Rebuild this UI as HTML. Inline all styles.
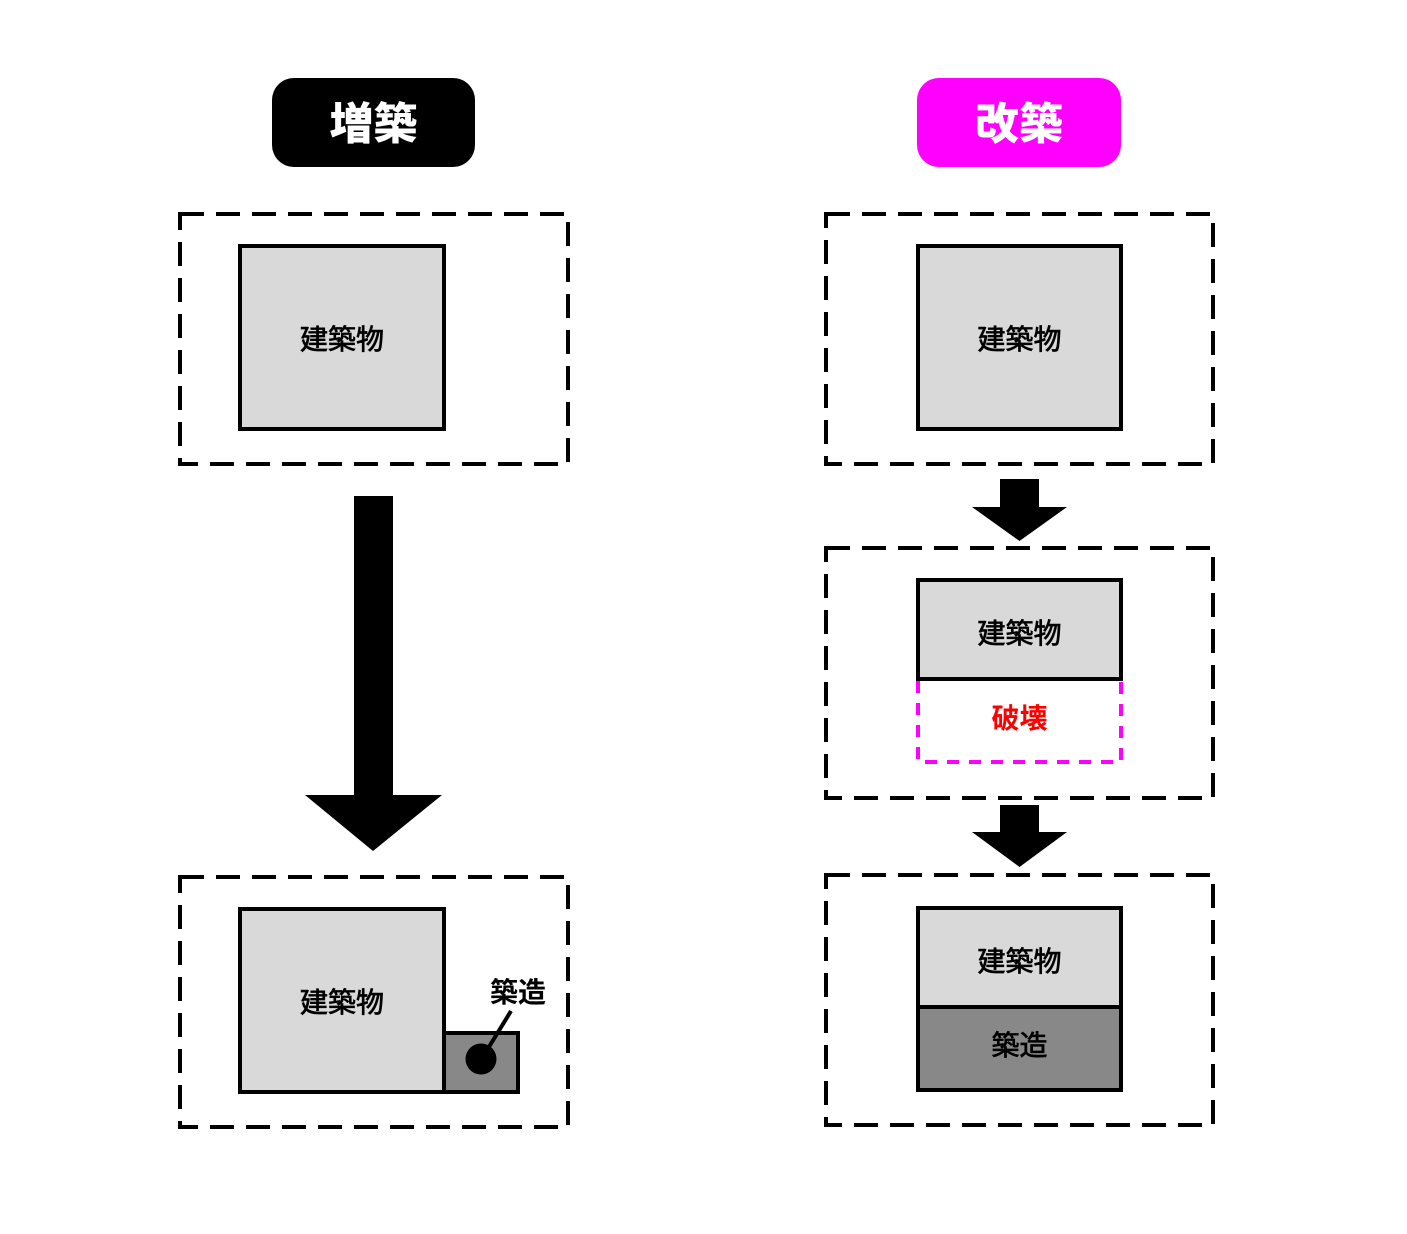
<!DOCTYPE html>
<html>
<head>
<meta charset="utf-8">
<style>
html,body{margin:0;padding:0;background:#fff;}
svg{display:block;}
text{font-family:"Liberation Sans","Noto Sans CJK JP",sans-serif;}
.m{font-size:28px;font-weight:400;fill:#000;stroke:#000;stroke-width:0.7px;}
</style>
</head>
<body>
<svg width="1407" height="1234" viewBox="0 0 1407 1234" xmlns="http://www.w3.org/2000/svg">
  <!-- Titles -->
  <rect x="272" y="78" width="203" height="89" rx="22" ry="22" fill="#000"/>
  <text x="373.5" y="139" font-size="44" font-weight="900" fill="#fff" text-anchor="middle">増築</text>
  <rect x="917" y="78" width="204" height="89" rx="22" ry="22" fill="#ff00ff"/>
  <text x="1019" y="139" font-size="44" font-weight="900" fill="#fff" text-anchor="middle">改築</text>

  <!-- Left column -->
  <rect x="180" y="214" width="388" height="250" fill="none" stroke="#000" stroke-width="4" stroke-dasharray="24 12"/>
  <rect x="240" y="246" width="204" height="183" fill="#d9d9d9" stroke="#000" stroke-width="4"/>
  <text x="342" y="349" class="m" text-anchor="middle">建築物</text>

  <polygon points="354,496 393,496 393,795 442,795 373,851 305,795 354,795" fill="#000"/>

  <rect x="180" y="877" width="388" height="250" fill="none" stroke="#000" stroke-width="4" stroke-dasharray="24 12"/>
  <rect x="240" y="909" width="204" height="183" fill="#d9d9d9" stroke="#000" stroke-width="4"/>
  <text x="342" y="1012" class="m" text-anchor="middle">建築物</text>
  <rect x="444" y="1033" width="74" height="59" fill="#888888" stroke="#000" stroke-width="4"/>
  <line x1="511" y1="1011" x2="484" y2="1055" stroke="#000" stroke-width="4"/>
  <circle cx="481" cy="1059" r="15.5" fill="#000"/>
  <text x="518" y="1002" font-size="28" font-weight="600" fill="#000" text-anchor="middle">築造</text>

  <!-- Right column -->
  <rect x="826" y="214" width="387" height="250" fill="none" stroke="#000" stroke-width="4" stroke-dasharray="24 12"/>
  <rect x="918" y="246" width="203" height="183" fill="#d9d9d9" stroke="#000" stroke-width="4"/>
  <text x="1019.5" y="349" class="m" text-anchor="middle">建築物</text>

  <polygon points="1000,479 1039,479 1039,507 1067,507 1019.5,541 972,507 1000,507" fill="#000"/>

  <rect x="826" y="548" width="387" height="250" fill="none" stroke="#000" stroke-width="4" stroke-dasharray="24 12"/>
  <path d="M918,681 L918,762 L1121,762 L1121,681" fill="none" stroke="#ff00ff" stroke-width="4" stroke-dasharray="12 10"/>
  <rect x="918" y="580" width="203" height="99" fill="#d9d9d9" stroke="#000" stroke-width="4"/>
  <text x="1019.5" y="643" class="m" text-anchor="middle">建築物</text>
  <text x="1019.5" y="728" font-size="28" font-weight="600" fill="#ff0000" text-anchor="middle">破壊</text>

  <polygon points="1000,805 1039,805 1039,832 1067,832 1019.5,867 972,832 1000,832" fill="#000"/>

  <rect x="826" y="875" width="387" height="250" fill="none" stroke="#000" stroke-width="4" stroke-dasharray="24 12"/>
  <rect x="918" y="908" width="203" height="99" fill="#d9d9d9" stroke="#000" stroke-width="4"/>
  <rect x="918" y="1007" width="203" height="83" fill="#888888" stroke="#000" stroke-width="4"/>
  <text x="1019.5" y="971" class="m" text-anchor="middle">建築物</text>
  <text x="1019.5" y="1055" class="m" text-anchor="middle">築造</text>
</svg>
</body>
</html>
